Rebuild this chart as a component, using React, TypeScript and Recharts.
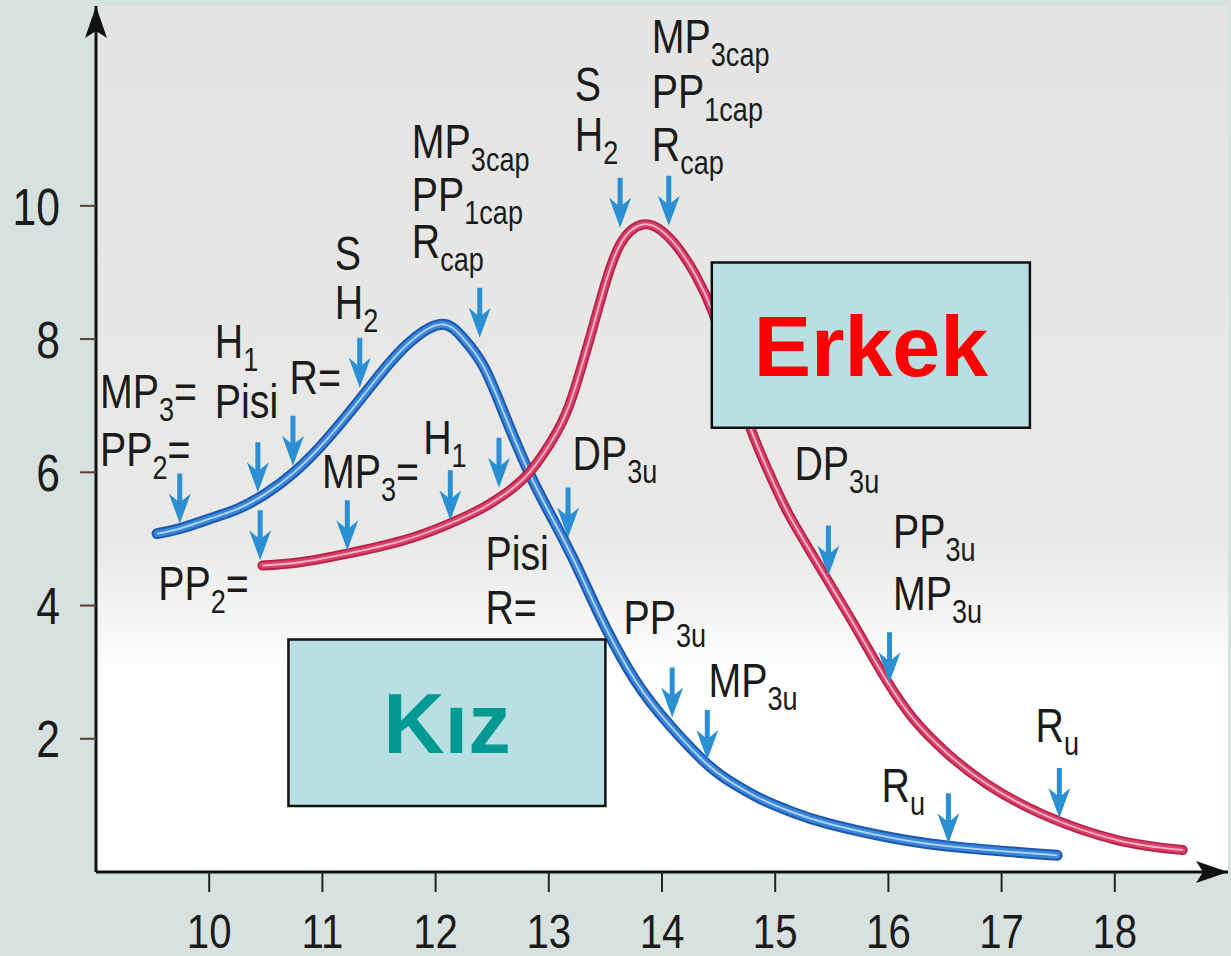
import React from 'react';
import {
  ComposedChart,
  Line,
  Scatter,
  XAxis,
  YAxis,
  CartesianGrid,
  ReferenceArea,
  ReferenceDot,
} from 'recharts';

// ---------- data ----------
const xTicks = [10, 11, 12, 13, 14, 15, 16, 17, 18];
const yTicks = [2, 4, 6, 8, 10];

// Kız (girls) curve
const kizAge = [9.54, 9.75, 10.0, 10.25, 10.5, 10.75, 11.0, 11.25, 11.5, 11.75, 12.04, 12.24, 12.42, 12.6, 12.83, 13.05, 13.25, 13.45, 13.7, 13.98, 14.36, 14.6, 14.87, 15.15, 15.46, 16.04, 16.63, 17.49];
const kizValue = [5.08, 5.16, 5.3, 5.45, 5.68, 6.0, 6.42, 6.92, 7.45, 7.92, 8.22, 8.02, 7.6, 6.9, 5.98, 5.25, 4.58, 3.85, 3.05, 2.38, 1.68, 1.36, 1.1, 0.9, 0.73, 0.51, 0.37, 0.25];

// Erkek (boys) curve
const erkekAge = [10.47, 10.8, 11.22, 11.7, 12.11, 12.4, 12.6, 12.83, 13.07, 13.21, 13.36, 13.48, 13.63, 13.83, 14.0, 14.15, 14.3, 14.45, 14.6, 14.78, 14.97, 15.11, 15.28, 15.47, 15.66, 15.81, 15.99, 16.22, 16.52, 16.87, 17.37, 18.02, 18.6];
const erkekValue = [4.6, 4.65, 4.78, 4.97, 5.22, 5.45, 5.66, 6.0, 6.6, 7.15, 8.0, 8.72, 9.42, 9.72, 9.62, 9.35, 8.95, 8.4, 7.62, 6.67, 5.9, 5.4, 4.9, 4.36, 3.82, 3.38, 2.86, 2.3, 1.78, 1.32, 0.86, 0.48, 0.33];

// arrow tips (stage markers)
const kizArrowX = [9.74, 10.43, 10.74, 11.33, 12.39, 13.17, 14.09, 14.4, 16.53];
const kizArrowY = [5.23, 5.7, 6.1, 7.27, 8.02, 5.02, 2.32, 1.68, 0.43];
const erkekArrowX = [10.45, 11.22, 12.13, 12.56, 13.63, 14.06, 15.47, 16.01, 17.51];
const erkekArrowY = [4.68, 4.83, 5.28, 5.77, 9.67, 9.7, 4.45, 2.85, 0.81];

// stage labels: x, y (left baseline), main text, subscript, suffix
const kizLabels = [
  { x: 9.035, y: 6.97, t: 'MP', s: '3', e: '=' },
  { x: 9.035, y: 6.1, t: 'PP', s: '2', e: '=' },
  { x: 10.05, y: 7.72, t: 'H', s: '1', e: '' },
  { x: 10.05, y: 6.82, t: 'Pisi', s: '', e: '' },
  { x: 10.71, y: 7.18, t: 'R=', s: '', e: '' },
  { x: 11.11, y: 9.03, t: 'S', s: '', e: '' },
  { x: 11.11, y: 8.3, t: 'H', s: '2', e: '' },
  { x: 11.79, y: 10.72, t: 'MP', s: '3cap', e: '' },
  { x: 11.79, y: 9.93, t: 'PP', s: '1cap', e: '' },
  { x: 11.79, y: 9.22, t: 'R', s: 'cap', e: '' },
  { x: 13.21, y: 6.03, t: 'DP', s: '3u', e: '' },
  { x: 13.66, y: 3.58, t: 'PP', s: '3u', e: '' },
  { x: 14.41, y: 2.62, t: 'MP', s: '3u', e: '' },
  { x: 15.94, y: 1.05, t: 'R', s: 'u', e: '' },
];
const erkekLabels = [
  { x: 9.55, y: 4.08, t: 'PP', s: '2', e: '=' },
  { x: 10.996, y: 5.77, t: 'MP', s: '3', e: '=' },
  { x: 11.89, y: 6.28, t: 'H', s: '1', e: '' },
  { x: 12.44, y: 4.53, t: 'Pisi', s: '', e: '' },
  { x: 12.44, y: 3.73, t: 'R=', s: '', e: '' },
  { x: 13.23, y: 11.57, t: 'S', s: '', e: '' },
  { x: 13.23, y: 10.82, t: 'H', s: '2', e: '' },
  { x: 13.91, y: 12.29, t: 'MP', s: '3cap', e: '' },
  { x: 13.91, y: 11.47, t: 'PP', s: '1cap', e: '' },
  { x: 13.91, y: 10.67, t: 'R', s: 'cap', e: '' },
  { x: 15.17, y: 5.88, t: 'DP', s: '3u', e: '' },
  { x: 16.04, y: 4.87, t: 'PP', s: '3u', e: '' },
  { x: 16.04, y: 3.93, t: 'MP', s: '3u', e: '' },
  { x: 17.3, y: 1.95, t: 'R', s: 'u', e: '' },
];

// legend boxes
const kizBox = { x1: 10.7, x2: 13.5, y1: 0.99, y2: 3.49, name: 'Kız' };
const erkekBox = { x1: 14.44, x2: 17.25, y1: 6.67, y2: 9.15, name: 'Erkek' };

// ---------- derived tables ----------
const kizData = kizAge.map((x, i) => ({ x, y: kizValue[i] }));
const erkekData = erkekAge.map((x, i) => ({ x, y: erkekValue[i] }));
const arrowData = [
  ...kizArrowX.map((x, i) => ({ x, y: kizArrowY[i] })),
  ...erkekArrowX.map((x, i) => ({ x, y: erkekArrowY[i] })),
];
const labelData = [...kizLabels, ...erkekLabels];

const SANS = "'Liberation Sans', Arial, Helvetica, sans-serif";
const NARROW_SCALE = 0.82;
const ARROW = '#2b8fd3';

const ArrowShape = (props: any) => {
  const { cx, cy } = props;
  if (cx == null || cy == null) return <g />;
  const pts = [
    [cx, cy],
    [cx - 11, cy - 30],
    [cx - 2.5, cy - 23],
    [cx - 2.5, cy - 50],
    [cx + 2.5, cy - 50],
    [cx + 2.5, cy - 23],
    [cx + 11, cy - 30],
  ]
    .map((p) => p.join(','))
    .join(' ');
  return <polygon points={pts} fill={ARROW} />;
};

const LabelShape = (props: any) => {
  const { cx, cy, payload } = props;
  if (cx == null || cy == null || !payload) return <g />;
  return (
    <text
      transform={`translate(${cx},${cy}) scale(${NARROW_SCALE},1)`}
      x={0}
      y={0}
      fontFamily={SANS}
      fontSize={48}
      fill="#1b1b1b"
    >
      <tspan>{payload.t}</tspan>
      {payload.s ? (
        <tspan fontSize={33} dy={13}>
          {payload.s}
        </tspan>
      ) : null}
      {payload.e ? (
        <tspan fontSize={48} dy={-13}>
          {payload.e}
        </tspan>
      ) : null}
    </text>
  );
};

const XTick = (props: any) => {
  const { x, y, payload } = props;
  return (
    <text
      transform={`translate(${x},${y}) scale(${NARROW_SCALE},1)`}
      textAnchor="middle"
      dy="0.71em"
      fontFamily={SANS}
      fontSize={49}
      fill="#1b1b1b"
    >
      {payload.value}
    </text>
  );
};

const YTick = (props: any) => {
  const { x, y, payload } = props;
  return (
    <text
      transform={`translate(${x},${y}) scale(${NARROW_SCALE},1)`}
      textAnchor="end"
      dy="0.36em"
      fontFamily={SANS}
      fontSize={52}
      fill="#1b1b1b"
    >
      {payload.value}
    </text>
  );
};

const UpArrowHead = (props: any) => {
  const { cx, cy } = props;
  if (cx == null || cy == null) return <g />;
  return <polygon points={`${cx},${cy} ${cx - 11},${cy + 32} ${cx},${cy + 25} ${cx + 11},${cy + 32}`} fill="#111" />;
};
const RightArrowHead = (props: any) => {
  const { cx, cy } = props;
  if (cx == null || cy == null) return <g />;
  return <polygon points={`${cx},${cy} ${cx - 32},${cy - 11} ${cx - 25},${cy} ${cx - 32},${cy + 11}`} fill="#111" />;
};

export default function App() {
  return (
    <div
      style={{
        position: 'absolute',
        left: 0,
        top: 0,
        width: 1231,
        height: 956,
        background: '#d7e1df',
        overflow: 'hidden',
      }}
    >
      <ComposedChart width={1231} height={956} margin={{ top: 6, right: 3, bottom: 0, left: 0 }}>
        <defs>
          <linearGradient id="plotBg" x1="0" y1="0" x2="0" y2="1">
            <stop offset="0" stopColor="#e4e5e2" />
            <stop offset="0.62" stopColor="#e9eae7" />
            <stop offset="0.78" stopColor="#ffffff" />
            <stop offset="1" stopColor="#ffffff" />
          </linearGradient>
        </defs>
        <CartesianGrid horizontal={false} vertical={false} fill="url(#plotBg)" stroke="none" />
        <XAxis
          dataKey="x"
          type="number"
          domain={[9, 19]}
          ticks={xTicks}
          allowDataOverflow
          height={84}
          tickSize={20}
          tickMargin={21}
          axisLine={{ stroke: '#111', strokeWidth: 3 }}
          tickLine={{ stroke: '#222', strokeWidth: 2 }}
          tick={<XTick />}
        />
        <YAxis
          dataKey="y"
          type="number"
          domain={[0, 13]}
          ticks={yTicks}
          allowDataOverflow
          width={96}
          tickSize={16}
          tickMargin={20}
          axisLine={{ stroke: '#111', strokeWidth: 3 }}
          tickLine={{ stroke: '#5a3a32', strokeWidth: 2 }}
          tick={<YTick />}
        />
        {/* Kız curve: layered strokes for the tube look */}
        <Line data={kizData} dataKey="y" type="natural" stroke="#1d58ad" strokeWidth={11} dot={false} activeDot={false} isAnimationActive={false} strokeLinecap="round" />
        <Line data={kizData} dataKey="y" type="natural" stroke="#3a86da" strokeWidth={7} dot={false} activeDot={false} isAnimationActive={false} strokeLinecap="round" />
        <Line data={kizData} dataKey="y" type="natural" stroke="#b6d7f6" strokeWidth={1.8} dot={false} activeDot={false} isAnimationActive={false} />
        {/* Erkek curve */}
        <Line data={erkekData} dataKey="y" type="natural" stroke="#b62148" strokeWidth={10} dot={false} activeDot={false} isAnimationActive={false} strokeLinecap="round" />
        <Line data={erkekData} dataKey="y" type="natural" stroke="#d9416a" strokeWidth={6.5} dot={false} activeDot={false} isAnimationActive={false} strokeLinecap="round" />
        <Line data={erkekData} dataKey="y" type="natural" stroke="#f6b8c8" strokeWidth={1.8} dot={false} activeDot={false} isAnimationActive={false} />

        <Scatter data={arrowData} dataKey="y" shape={ArrowShape} isAnimationActive={false} />
        <Scatter data={labelData} dataKey="y" shape={LabelShape} isAnimationActive={false} />

        <ReferenceArea
          x1={kizBox.x1}
          x2={kizBox.x2}
          y1={kizBox.y1}
          y2={kizBox.y2}
          fill="#badfe3"
          fillOpacity={1}
          stroke="#111"
          strokeWidth={2.5}
          ifOverflow="visible"
          zIndex={1000}
          label={{ value: kizBox.name, position: 'center', fill: '#009a92', fontSize: 85, fontWeight: 'bold', fontFamily: SANS }}
        />
        <ReferenceArea
          x1={erkekBox.x1}
          x2={erkekBox.x2}
          y1={erkekBox.y1}
          y2={erkekBox.y2}
          fill="#badfe3"
          fillOpacity={1}
          stroke="#111"
          strokeWidth={2.5}
          ifOverflow="visible"
          zIndex={1000}
          label={{ value: erkekBox.name, position: 'center', fill: '#ff0000', fontSize: 86, fontWeight: 'bold', fontFamily: SANS }}
        />
        <ReferenceDot x={9} y={13} r={0} ifOverflow="visible" shape={UpArrowHead} zIndex={1000} />
        <ReferenceDot x={19} y={0} r={0} ifOverflow="visible" shape={RightArrowHead} zIndex={1000} />
      </ComposedChart>
    </div>
  );
}
